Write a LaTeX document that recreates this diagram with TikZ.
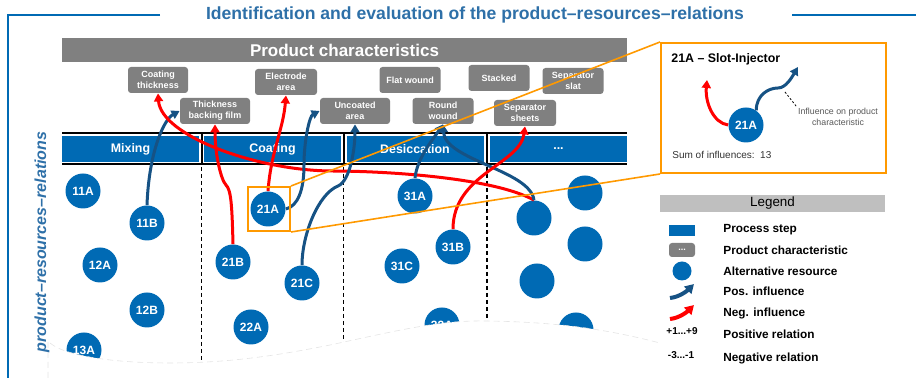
\documentclass[tikz,border=0pt]{standalone}
\usepackage{fontspec}
\setmainfont{Liberation Sans}
\usepackage{tikz}
\usetikzlibrary{arrows.meta}

\definecolor{titleblue}{RGB}{46,112,168}
\definecolor{procblue}{RGB}{0,106,180}
\definecolor{posblue}{RGB}{22,82,132}
\definecolor{chargray}{RGB}{128,128,128}
\definecolor{leggray}{RGB}{191,191,191}
\definecolor{zoomorange}{RGB}{255,153,0}

\begin{document}
\begin{tikzpicture}[x=0.5pt,y=-0.5pt,
    charbox/.style={fill=chargray, rounded corners=1.5pt, text=white, align=center, inner sep=0pt,
      minimum width=#1, minimum height=13pt, font=\fontsize{4.5}{5.5}\selectfont\bfseries},
    charbox/.default=31pt,
    stepbox/.style={fill=procblue, text=white, inner sep=0pt, minimum width=68.5pt, minimum height=13pt,
      font=\fontsize{6.2}{7}\selectfont\bfseries},
    res/.style={circle, fill=procblue, text=white, inner sep=0pt, minimum size=17.5pt,
      font=\fontsize{6}{7}\selectfont\bfseries},
    posinf/.style={draw=posblue, line width=1.5pt, -{Triangle[length=4pt,width=4.5pt]}},
    neginf/.style={draw=red, line width=1.5pt, -{Triangle[length=4pt,width=4.5pt]}},
    zoomline/.style={draw=zoomorange, line width=0.8pt},
    legtext/.style={anchor=west, inner sep=0pt, font=\fontsize{5.9}{7}\selectfont\bfseries}]
          \useasboundingbox (0,0) rectangle (916,378);
          % frame and title
          \draw[procblue, line width=1.3pt] (160,15) -- (8,15) -- (8,378);
          \draw[procblue, line width=1.3pt] (792,15) -- (916,15);
          \node[anchor=base, text=titleblue, font=\fontsize{8.8}{10}\selectfont\bfseries] (title) at (475,20)
            {Identification and evaluation of the product–resources–relations};
          % product characteristics
          \node[fill=chargray, text=white, inner sep=0pt, minimum width=282.5pt, minimum height=12pt,
            font=\fontsize{8.5}{9}\selectfont\bfseries] (pcbar) at (344.5,50) {Product characteristics};
          \node[charbox=30pt] (cth) at (158,80) {Coating\\thickness};
          \node[charbox=35pt] (thk) at (215,111) {Thickness\\backing film};
          \node[charbox] (elec) at (286,82) {Electrode\\area};
          \node[charbox=35pt] (unc) at (355,111) {Uncoated\\area};
          \node[charbox=30.5pt] (flat) at (410,80) {Flat wound};
          \node[charbox=30.5pt] (rw) at (443,111) {Round\\wound};
          \node[charbox=30.5pt] (stk) at (499,78) {Stacked};
          \node[charbox=30.5pt] (slat) at (573,81) {Separator\\slat};
          \node[charbox] (sep) at (525,113) {Separator\\sheets};
          % process steps
          \draw[line width=1pt] (62,133) -- (627,133);
          \draw[line width=1pt] (62,164) -- (627,164);
          \node[stepbox] (mix) at (130.5,149) {Mixing};
          \node[stepbox] (coat) at (272.5,149) {Coating};
          \node[stepbox] (desic) at (415,149) {Desiccation};
          \node[stepbox] (more) at (558.5,149) {...};
          \foreach \x in {201.5,343.5,487} {
            \draw[line width=1pt] (\x,133) -- (\x,164);
            \draw[line width=0.6pt, dash pattern=on 2pt off 1.5pt] (\x,167) -- (\x,370);
          }
          % alternative resources
          \node[res] (c11A) at (83,191) {11A};
          \node[res] (c11B) at (147,223) {11B};
          \node[res] (c12A) at (100,265) {12A};
          \node[res] (c12B) at (147,310) {12B};
          \node[res] (c13A) at (84,350) {13A};
          \node[res] (c21A) at (268,209) {21A};
          \node[res] (c21B) at (233,262) {21B};
          \node[res] (c21C) at (302,283) {21C};
          \node[res] (c22A) at (251,327) {22A};
          \node[res] (c31A) at (415,196) {31A};
          \node[res] (c31B) at (453,247) {31B};
          \node[res] (c31C) at (402,266) {31C};
          \node[res] (c32A) at (442,325) {32A};
          \node[res] (cX1) at (534,218) {};
          \node[res] (cX2) at (585,193) {};
          \node[res] (cX3) at (585,244) {};
          \node[res] (cX4) at (537,281) {};
          \node[res] (cX5) at (576,330) {};
          % torn edge
          \fill[white] (48,341) .. controls (60,355) and (110,363) .. (170,363)
            .. controls (230,363) and (280,355) .. (330,345)
            .. controls (400,330) and (440,320) .. (487,321)
            .. controls (560,322) and (610,330) .. (660,343) -- (660,378) -- (48,378) -- cycle;
          \draw[black!10, line width=0.3pt, densely dashed] (48,378) -- (48,341) .. controls (60,355) and (110,363) .. (170,363)
            .. controls (230,363) and (280,355) .. (330,345)
            .. controls (400,330) and (440,320) .. (487,321)
            .. controls (560,322) and (610,330) .. (660,343);
          \node[rotate=90, text=titleblue, font=\fontsize{8}{9}\selectfont\bfseries\itshape] (axis) at (42,242)
            {product–resources–relations};
          % influences
          \draw[posinf] (c11B.north) .. controls +(2,-55) and +(-15,8) .. (thk.west);
          \draw[neginf] (cX1.north) .. controls +(-40,-22) and +(60,0) .. (330,171)
            .. controls +(-75,-1) and +(3,42) .. (cth.south);
          \draw[neginf] (c21B.north) .. controls +(-1,-40) and +(5,5) .. (226,185)
            .. controls +(-5,-5) and +(0,30) .. (thk.south);
          \draw[neginf] (c21A.north) .. controls +(3,-40) and +(-3,35) .. (elec.south);
          \draw[posinf] (c21A.east) .. controls +(12,-3) and +(0,25) .. (304,165)
            .. controls +(0,-25) and +(-10,5) .. (unc.west);
          \draw[posinf] (c21C.north) .. controls +(0,-30) and +(-20,8) .. (338,186)
            .. controls +(12,-5) and +(0,25) .. (unc.south);
          \draw[posinf] (c31A.north) .. controls +(2,-20) and +(-10,15) .. (rw.south);
          \draw[posinf] (cX1.north) .. controls +(-4,-30) and +(2,36) .. (rw.south);
          \draw[neginf] (c31B.north) .. controls +(0,-55) and +(-5,38) .. (sep.south);
          % zoom on 21A
          \node[draw=zoomorange, line width=1pt, minimum width=21pt, minimum height=22pt, inner sep=0pt] (zoombox) at (269,209) {};
          \node[draw=zoomorange, line width=1pt, fill=white, minimum width=112.5pt, minimum height=65pt, inner sep=0pt] (inset) at (773.5,108) {};
          \draw[zoomline] (zoombox.north east) -- (inset.north west);
          \draw[zoomline] (zoombox.south east) -- (inset.south west);
          \node[anchor=base west, inner sep=0pt, font=\fontsize{6.2}{7}\selectfont\bfseries] (insettitle) at (671,63) {21A – Slot-Injector};
          \node[res] (ic21A) at (746,125) {21A};
          \coordinate (negtip) at (707,80);
          \coordinate (postip) at (798,67);
          \draw[neginf] (ic21A.west) .. controls +(-15,-2) and +(-2,22) .. (negtip);
          \draw[posinf] (ic21A.55) .. controls +(0,-15) and +(-10,0) .. (778,88) .. controls +(8,0) and +(-6,10) .. (postip);
          \node[align=center, inner sep=0.5pt, text=black!65, font=\fontsize{4.4}{5.5}\selectfont] (infl) at (838,117) {Influence on product\\characteristic};
          \coordinate (pointer) at (785,92);
          \draw[line width=0.4pt, dash pattern=on 1pt off 1pt] (pointer) -- (infl.north west);
          \node[anchor=base west, inner sep=0pt, text=black!80, font=\fontsize{5}{6}\selectfont] (suminf) at (672,159) {Sum of influences:\ \ 13};
          % legend
          \node[fill=leggray, minimum width=112.5pt, minimum height=8.5pt, inner sep=0pt, font=\fontsize{6.7}{7}\selectfont] (legend) at (772.5,203.5) {Legend};
          \node[fill=procblue, minimum width=13pt, minimum height=5.5pt, inner sep=0pt] (lstep) at (682,230.5) {};
          \node[legtext] (lsteptxt) at (723,230) {Process step};
          \node[charbox=13pt, minimum height=7pt] (lchar) at (682,250) {...};
          \node[legtext] (lchartxt) at (723,250) {Product characteristic};
          \node[res, minimum size=9.5pt] (lres) at (682,271) {};
          \node[legtext] (lrestxt) at (723,271) {Alternative resource};
          \coordinate (lposA) at (670,298);
          \coordinate (lposB) at (694,284);
          \draw[posinf, line width=2pt, -{Triangle[length=4.5pt,width=5pt]}] (lposA) .. controls +(10,-1) and +(-6,6) .. (lposB);
          \node[legtext] (lpostxt) at (723,291) {Pos. influence};
          \coordinate (lnegA) at (670,319);
          \coordinate (lnegB) at (694,305);
          \draw[neginf, line width=2pt, -{Triangle[length=4.5pt,width=5pt]}] (lnegA) .. controls +(10,-1) and +(-6,6) .. (lnegB);
          \node[legtext] (lnegtxt) at (723,313) {Neg. influence};
          \node[inner sep=0pt, font=\fontsize{5}{6}\selectfont\bfseries] (lplus) at (682,331) {+1...+9};
          \node[legtext] (lplustxt) at (723,334) {Positive relation};
          \node[inner sep=0pt, font=\fontsize{5}{6}\selectfont\bfseries] (lminus) at (681,355) {-3...-1};
          \node[legtext] (lminustxt) at (723,358) {Negative relation};
        \end{tikzpicture}
\end{document}
